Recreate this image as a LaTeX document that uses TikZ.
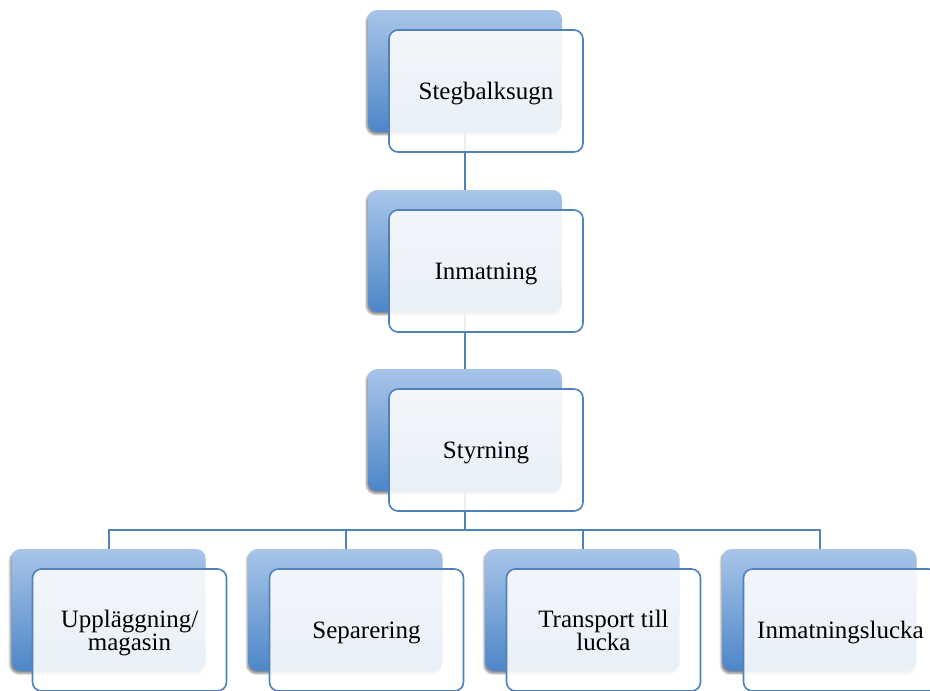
\documentclass[tikz,border=0pt]{standalone}
\usepackage{fontspec}
\setmainfont{Liberation Serif}
\usetikzlibrary{shadows.blur}

\definecolor{lineblue}{RGB}{79,129,189}
\definecolor{backtop}{RGB}{168,197,233}
\definecolor{backbottom}{RGB}{77,134,199}

\begin{document}
\begin{tikzpicture}[x=1pt, y=-1pt,
  back/.style={rounded corners=9pt, minimum width=194pt, minimum height=122pt,
    top color=backtop, bottom color=backbottom,
    blur shadow={shadow xshift=-1.5pt, shadow yshift=-2.5pt, shadow opacity=45, shadow blur steps=6}},
  front/.style={draw=lineblue, line width=1.6pt, rounded corners=9pt,
    fill=white, fill opacity=0.88, text opacity=1,
    minimum width=194pt, minimum height=122pt, align=center, text depth=0pt,
    font=\fontsize{25}{23}\selectfont},
  link/.style={draw=lineblue, line width=2pt}]

  \clip (0,0) rectangle (930,691);

  % bakre rutor
  \node[back] (sb) at (465,71)  {};
  \node[back] (in) at (465,251) {};
  \node[back] (st) at (465,430) {};
  \node[back] (up) at (108.5,610) {};
  \node[back] (se) at (345.5,610) {};
  \node[back] (tr) at (582.5,610) {};
  \node[back] (il) at (819.5,610) {};

  % linjer
  \coordinate (bus) at (465,530);
  \draw[link] (sb.south) -- (in.north);
  \draw[link] (in.south) -- (st.north);
  \draw[link] (st.south) -- (bus);
  \draw[link] (bus) -| (up.north);
  \draw[link] (bus) -| (se.north);
  \draw[link] (bus) -| (tr.north);
  \draw[link] (bus) -| (il.north);

  % främre rutor med text
  \node[front] (sbtext) at (486,91)  {Stegbalksugn};
  \node[front] (intext) at (486,271) {Inmatning};
  \node[front] (sttext) at (486,450) {Styrning};
  \node[front] (uptext) at (129.5,630) {Uppläggning/\\magasin};
  \node[front] (setext) at (366.5,630) {Separering};
  \node[front] (trtext) at (603.5,630) {Transport till\\lucka};
  \node[front] (iltext) at (840.5,630) {Inmatningslucka};

\end{tikzpicture}
\end{document}
